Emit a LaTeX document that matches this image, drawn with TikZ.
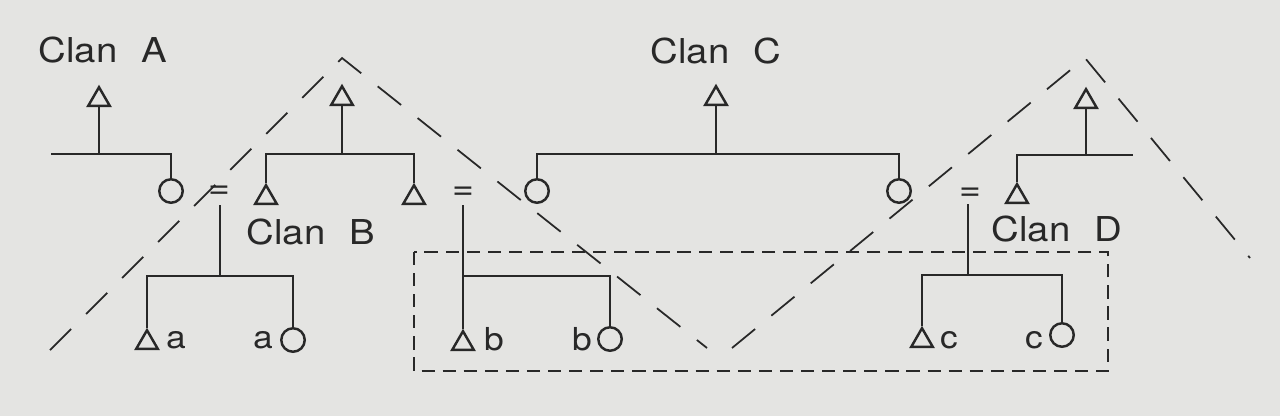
\documentclass[tikz,border=0pt]{standalone}
\usepackage{fontspec}
\newfontfamily\labfont{TeX Gyre Heros}[FakeStretch=1.12]
\usetikzlibrary{shapes.geometric}
\definecolor{paper}{RGB}{228,228,226}
\definecolor{ink}{RGB}{40,40,40}
\begin{document}
\begin{tikzpicture}[x=0.02cm,y=-0.02cm,
  tri/.style={regular polygon,regular polygon sides=3,draw=ink,line width=1.4pt,inner sep=0pt,minimum size=0.5cm},
  circ/.style={circle,draw=ink,line width=1.4pt,inner sep=0pt,minimum size=0.47cm},
  kin/.style={draw=ink,line width=1.5pt},
  lab/.style={text=ink,inner sep=0pt,font=\labfont\fontsize{18}{20}\selectfont},
  clan/.style={text=ink,inner sep=0pt,font=\labfont\fontsize{19.5}{22}\selectfont},
  eqs/.style={text=ink,inner sep=0pt,font=\labfont\fontsize{19}{20}\selectfont},
  diag/.style={draw=ink,line width=1pt,dash pattern=on 17pt off 12pt},
  boxd/.style={draw=ink,line width=1pt,dash pattern=on 7.5pt off 4.5pt}]
\fill[paper] (0,0) rectangle (1280,416);
\useasboundingbox (0,0) rectangle (1280,416);

% Clan labels
\node[clan] (clanA) at (103,50) {Clan\hspace{0.7em}A};
\node[clan] (clanB) at (311,232) {Clan\hspace{0.7em}B};
\node[clan] (clanC) at (716,51) {Clan\hspace{0.7em}C};
\node[clan] (clanD) at (1057,229) {Clan\hspace{0.7em}D};

% Clan A
\node[tri] (tA) at (99,99.7) {};
\node[circ] (cA) at (171,191) {};
\coordinate (hA) at (99,154);
\coordinate (lA) at (51,154);
\draw[kin] (tA.south) -- (hA);
\draw[kin] (lA) -- (hA) -| (cA.north);

% Clan B
\node[tri] (tB) at (342,98.7) {};
\node[tri] (tB1) at (266,197.7) {};
\node[tri] (tB2) at (414,197.7) {};
\coordinate (hB) at (342,154);
\draw[kin] (tB.south) -- (hB);
\draw[kin] (tB1.north) |- (hB) -| (tB2.north);

% Clan C
\node[tri] (tC) at (716,98.7) {};
\node[circ] (cC1) at (537,191) {};
\node[circ] (cC2) at (899,191) {};
\coordinate (hC) at (716,154);
\draw[kin] (tC.south) -- (hC);
\draw[kin] (cC1.north) |- (hC) -| (cC2.north);

% Clan D
\node[tri] (tD) at (1086,101.7) {};
\node[tri] (tD1) at (1017,196.7) {};
\coordinate (hD) at (1086,155);
\coordinate (rD) at (1133,155);
\draw[kin] (tD.south) -- (hD);
\draw[kin] (tD1.north) |- (hD) -- (rD);

% Marriage 1 (children a)
\node[eqs] (eq1) at (219,192) {=};
\coordinate (d1) at (220,205);
\coordinate (h1) at (220,276);
\node[tri] (ta) at (147,342.7) {};
\node[circ] (ca) at (293,340) {};
\node[lab] (la1) at (176,340) {a};
\node[lab] (la2) at (263,340) {a};
\draw[kin] (d1) -- (h1);
\draw[kin] (ta.north) |- (h1) -| (ca.north);

% Marriage 2 (children b)
\node[eqs] (eq2) at (463,193) {=};
\coordinate (d2) at (463,205);
\coordinate (h2) at (463,276);
\node[tri] (tb) at (463,343.7) {};
\node[circ] (cb) at (610,339) {};
\node[lab] (lb1) at (494,339) {b};
\node[lab] (lb2) at (582,339) {b};
\draw[kin] (d2) -- (tb.north);
\draw[kin] (h2) -| (cb.north);

% Marriage 3 (children c)
\node[eqs] (eq3) at (970,194) {=};
\coordinate (d3) at (968,204);
\coordinate (h3) at (968,275);
\node[tri] (tc) at (922,340.7) {};
\node[circ] (cc) at (1062,335) {};
\node[lab] (lc1) at (949,340) {c};
\node[lab] (lc2) at (1034,340) {c};
\draw[kin] (d3) -- (h3);
\draw[kin] (tc.north) |- (h3) -| (cc.north);

% dashed box
\draw[boxd] (414,252) rectangle (1108,371);

% dashed diagonals
\coordinate (p1) at (50,350);
\coordinate (p2) at (342,58);
\coordinate (p3) at (707,348);
\coordinate (q1) at (732,348);
\coordinate (q2) at (1085,58);
\coordinate (q3) at (1250,258);
\draw[diag] (p1) -- (p2) -- (p3);
\draw[diag] (q1) -- (q2) -- (q3);
\end{tikzpicture}
\end{document}
